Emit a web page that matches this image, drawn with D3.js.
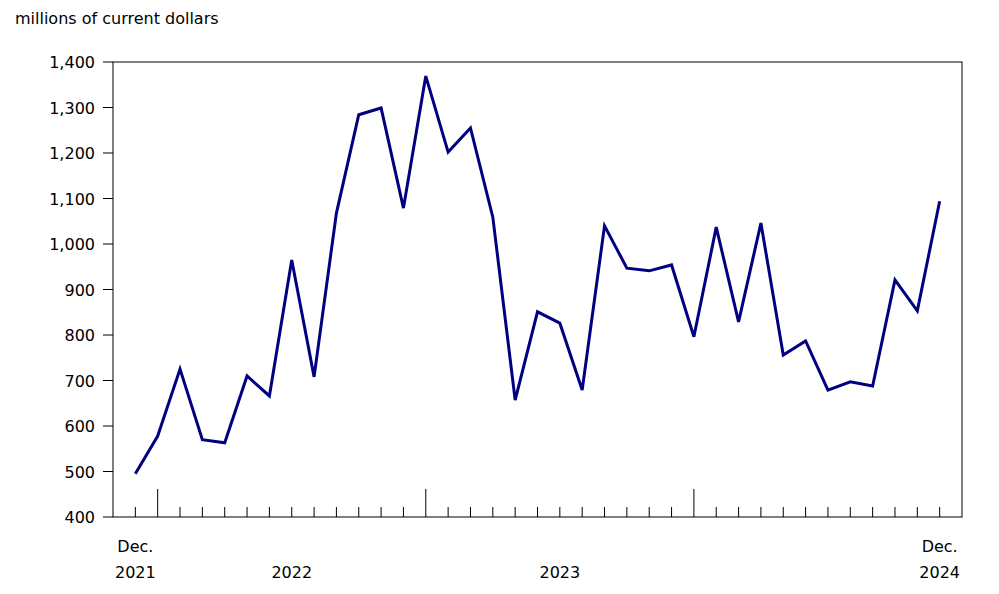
<!DOCTYPE html>
<html><head><meta charset="utf-8">
<script src="https://cdn.jsdelivr.net/npm/d3@7"></script>
<style>body{margin:0;background:#fff}text{font-family:"DejaVu Sans",Verdana,sans-serif;font-size:16px;fill:#000}</style>
</head><body>
<svg id="chart" width="999" height="594"></svg>
<script>
// monthly values, Dec 2021 .. Dec 2024
var months = d3.range(37);
var values = [495, 578, 725, 570, 563, 710, 666, 965, 708, 1068, 1284, 1299, 1079,
  1369, 1202, 1255, 1059, 657, 851, 826, 679, 1040, 947, 941, 954,
  796, 1037, 829, 1046, 756, 787, 679, 697, 688, 921, 853, 1094];
var yTicks = [400, 500, 600, 700, 800, 900, 1000, 1100, 1200, 1300, 1400];
var yearLabels = [{m: 7, t: "2022"}, {m: 19, t: "2023"}];
var majorTicks = [1, 13, 25];

var svg = d3.select("#chart");
var pLeft = 113, pRight = 962, pTop = 62, pBottom = 517;

var x = d3.scaleLinear().domain([-1, 37]).range([pLeft, pRight]);
var y = d3.scaleLinear().domain([400, 1400]).range([pBottom, pTop]);

svg.append("rect").attr("x", pLeft).attr("y", pTop)
  .attr("width", pRight - pLeft).attr("height", pBottom - pTop)
  .attr("fill", "none").attr("stroke", "#000").attr("stroke-width", 1);

svg.append("text").attr("x", 15).attr("y", 24).text("millions of current dollars");

// y axis labels + ticks
yTicks.forEach(function(v) {
  svg.append("text").attr("x", pLeft - 18).attr("y", y(v) + 6)
    .attr("text-anchor", "end").text(d3.format(",")(v));
  svg.append("line").attr("x1", pLeft - 10).attr("x2", pLeft)
    .attr("y1", y(v)).attr("y2", y(v)).attr("stroke", "#000");
});

// x ticks
months.forEach(function(m) {
  var major = majorTicks.indexOf(m) >= 0;
  svg.append("line").attr("x1", x(m)).attr("x2", x(m))
    .attr("y1", major ? pBottom - 28 : pBottom - 10).attr("y2", pBottom)
    .attr("stroke", "#000");
});

svg.append("text").attr("x", x(0)).attr("y", 552).attr("text-anchor", "middle").text("Dec.");
svg.append("text").attr("x", x(0)).attr("y", 578).attr("text-anchor", "middle").text("2021");
svg.append("text").attr("x", x(36)).attr("y", 552).attr("text-anchor", "middle").text("Dec.");
svg.append("text").attr("x", x(36)).attr("y", 578).attr("text-anchor", "middle").text("2024");
yearLabels.forEach(function(d) {
  svg.append("text").attr("x", x(d.m)).attr("y", 578).attr("text-anchor", "middle").text(d.t);
});

var line = d3.line().x(function(d, i) { return x(i); }).y(function(d) { return y(d); });
svg.append("path").datum(values).attr("d", line)
  .attr("fill", "none").attr("stroke", "#000080").attr("stroke-width", 3)
  .attr("stroke-linejoin", "miter");
</script>
</body></html>
